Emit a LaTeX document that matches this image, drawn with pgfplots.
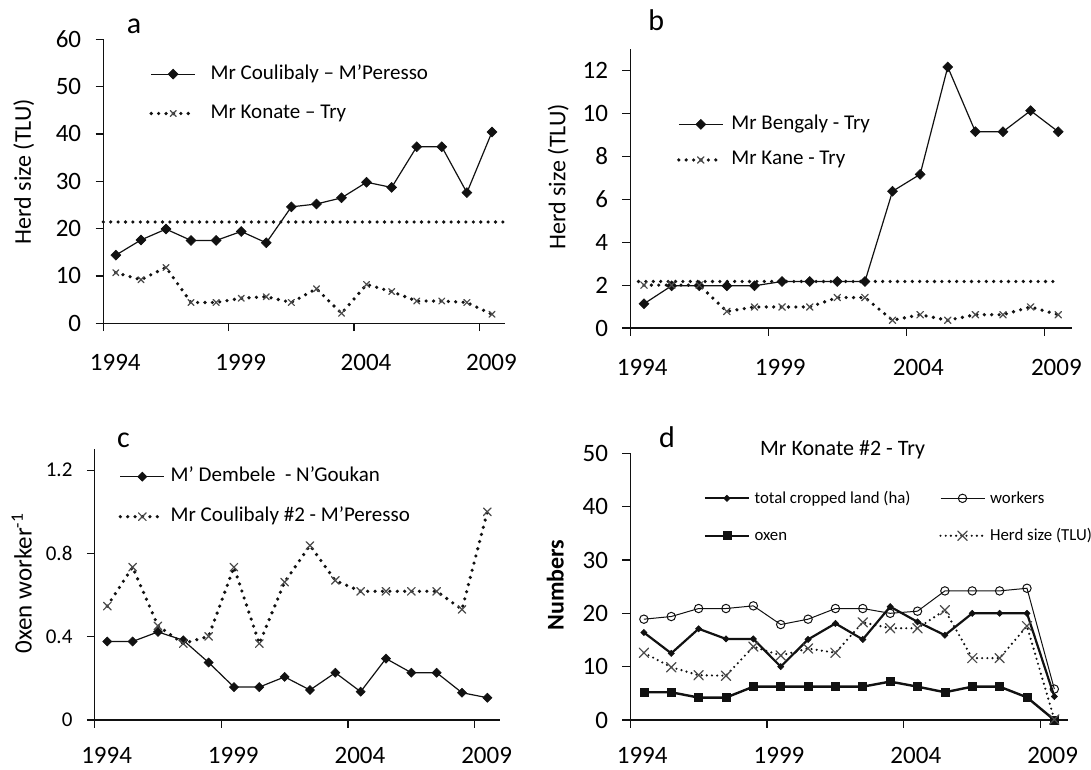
\documentclass[border=0pt]{standalone}
\usepackage{pgfplots}
\pgfplotsset{compat=1.18}
\usepackage{fontspec}
\setmainfont{Carlito}
\definecolor{ink}{HTML}{111111}
\definecolor{xgray}{HTML}{4A4A4A}
\pgfplotsset{
  paneldefault/.style={
    scale only axis, clip=false, anchor=south west,
    axis x line*=bottom, axis y line*=left,
    axis line style={ink, line width=0.6pt},
    tick style={ink, line width=0.6pt},
    tick align=outside, major tick length=3.9pt,
    xmin=1994, xmax=2010,
    xtick={1994,1999,2004,2009},
    xticklabels={1994,1999,2004,2009},
    /pgf/number format/assume math mode=true,
    xticklabel style={font=\fontsize{12.5}{14}\selectfont, anchor=north, inner sep=0pt, xshift=6pt, yshift=-11.6pt},
    yticklabel style={font=\fontsize{12.5}{14}\selectfont, anchor=east, inner sep=0pt, xshift=-7pt},
    ylabel style={font=\fontsize{12}{14}\selectfont, anchor=center},
    legend style={draw=none, fill=none, anchor=west, inner sep=0pt,
      font=\fontsize{10.5}{12}\selectfont,
      nodes={inner sep=0pt, text height=7pt, text depth=2pt}},
    legend cell align=left,
    legend image code/.code={\draw[mark repeat=2,mark phase=2,##1] plot coordinates {(0pt,0pt) (11pt,0pt) (22pt,0pt)};},
  },
  bottomrow/.style={xticklabel style={yshift=2pt}},
  dotline/.style={line width=1.8pt, dash pattern=on 0pt off 3.7pt, line cap=round},
  solidline/.style={ink, line width=0.6pt, solid},
  dia/.style={mark=square*, mark size=#1, mark options={rotate=45, solid, fill=ink, draw=ink, line width=0.3pt}},
  xm/.style={mark=x, mark size=#1, mark options={solid, xgray, line width=0.6pt}},
}
\begin{document}
\begin{tikzpicture}
\useasboundingbox (0pt,0pt) rectangle (545.5pt,385pt);
% ---------------- panel a
\begin{axis}[paneldefault, at={(51.65pt,223.35pt)}, width=200.6pt, height=142pt,
  ymin=0, ymax=60, ytick={0,10,20,30,40,50,60}, yticklabels={0,10,20,30,40,50,60},
  ylabel={Herd size (TLU)}, ylabel style={at={(axis description cs:-0.198,0.534)}},
  legend style={at={(axis description cs:0.114,0.808)}, row sep=10.7pt,
    /tikz/every odd column/.append style={column sep=6.8pt}}]
\addplot[solidline, dia=1.75pt] coordinates {
(1994.5,14.4) (1995.5,17.6) (1996.5,19.9) (1997.5,17.5) (1998.5,17.5) (1999.5,19.4)
(2000.5,17.0) (2001.5,24.6) (2002.5,25.2) (2003.5,26.5) (2004.5,29.8) (2005.5,28.7)
(2006.5,37.3) (2007.5,37.3) (2008.5,27.6) (2009.5,40.4)};
\addlegendentry{Mr Coulibaly – M’Peresso}
\addplot[ink, dotline, xm=2.1pt] coordinates {
(1994.5,10.7) (1995.5,9.2) (1996.5,11.8) (1997.5,4.4) (1998.5,4.4) (1999.5,5.3)
(2000.5,5.6) (2001.5,4.4) (2002.5,7.3) (2003.5,2.1) (2004.5,8.2) (2005.5,6.7)
(2006.5,4.7) (2007.5,4.7) (2008.5,4.4) (2009.5,1.9)};
\addlegendentry{Mr Konate – Try}
\addplot[ink, dotline, forget plot] coordinates {(1994,21.4) (2010.2,21.4)};
\node[font=\fontsize{15}{17}\selectfont] at (axis description cs:0.0765,1.047) {a};
\end{axis}
% ---------------- panel b
\begin{axis}[paneldefault, at={(315.1pt,221pt)}, width=220.9pt, height=139.3pt,
  ymin=0, ymax=13, ytick={0,2,4,6,8,10,12}, yticklabels={0,2,4,6,8,10,12},
  ylabel={Herd size (TLU)}, ylabel style={at={(axis description cs:-0.163,0.543)}},
  legend style={at={(axis description cs:0.105,0.667)}, row sep=8.8pt,
    /tikz/every odd column/.append style={column sep=3.4pt}}]
\addplot[solidline, dia=1.75pt] coordinates {
(1994.5,1.13) (1995.5,1.97) (1996.5,1.97) (1997.5,1.97) (1998.5,1.97) (1999.5,2.17)
(2000.5,2.17) (2001.5,2.17) (2002.5,2.17) (2003.5,6.38) (2004.5,7.17) (2005.5,12.18)
(2006.5,9.16) (2007.5,9.16) (2008.5,10.14) (2009.5,9.16)};
\addlegendentry{Mr Bengaly - Try}
\addplot[ink, dotline, xm=2.3pt] coordinates {
(1994.5,2.0) (1995.5,2.0) (1996.5,2.0) (1997.5,0.77) (1998.5,0.98) (1999.5,0.98)
(2000.5,0.98) (2001.5,1.42) (2002.5,1.42) (2003.5,0.36) (2004.5,0.62) (2005.5,0.36)
(2006.5,0.62) (2007.5,0.62) (2008.5,0.98) (2009.5,0.62)};
\addlegendentry{Mr Kane - Try}
\addplot[ink, dotline, forget plot] coordinates {(1994.3,2.17) (2009.5,2.17)};
\node[font=\fontsize{15}{17}\selectfont] at (axis description cs:0.059,1.105) {b};
\end{axis}
% ---------------- panel c
\begin{axis}[paneldefault, bottomrow, at={(47.3pt,25pt)}, width=202.7pt, height=135.35pt,
  ymin=0, ymax=1.3, ytick={0,0.4,0.8,1.2}, yticklabels={0,0.4,0.8,1.2},
  yticklabel style={font=\fontsize{10.5}{12}\selectfont},
  ylabel={0xen worker\textsuperscript{-1}}, ylabel style={at={(axis description cs:-0.18,0.505)}, font=\fontsize{12.5}{14}\selectfont},
  legend style={at={(axis description cs:0.058,0.825)}, row sep=11pt,
    /tikz/every odd column/.append style={column sep=2.3pt}}]
\addplot[solidline, dia=1.6pt] coordinates {
(1994.5,0.377) (1995.5,0.377) (1996.5,0.423) (1997.5,0.383) (1998.5,0.276) (1999.5,0.158)
(2000.5,0.158) (2001.5,0.207) (2002.5,0.144) (2003.5,0.227) (2004.5,0.136) (2005.5,0.295)
(2006.5,0.227) (2007.5,0.227) (2008.5,0.131) (2009.5,0.107)};
\addlegendentry{M' Dembele\ \ - N'Goukan}
\addplot[ink, dotline, xm=2.7pt] coordinates {
(1994.5,0.547) (1995.5,0.734) (1996.5,0.452) (1997.5,0.367) (1998.5,0.402) (1999.5,0.734)
(2000.5,0.367) (2001.5,0.662) (2002.5,0.838) (2003.5,0.670) (2004.5,0.618) (2005.5,0.618)
(2006.5,0.618) (2007.5,0.618) (2008.5,0.531) (2009.5,1.0)};
\addlegendentry{Mr Coulibaly \#2 - M'Peresso}
\node[font=\fontsize{15}{17}\selectfont] at (axis description cs:0.071,1.034) {c};
\end{axis}
% ---------------- panel d
\begin{axis}[paneldefault, bottomrow, at={(315.1pt,25pt)}, width=218.9pt, height=133.35pt,
  ymin=0, ymax=50, ytick={0,10,20,30,40,50}, yticklabels={0,10,20,30,40,50},
  ylabel={Numbers}, ylabel style={at={(axis description cs:-0.171,0.506)}, font=\fontsize{12}{14}\selectfont\bfseries},
  legend columns=2,
  legend style={at={(axis description cs:0.167,0.761)}, row sep=9.7pt,
    font=\fontsize{8.4}{10}\selectfont,
    /tikz/every odd column/.append style={column sep=2.2pt}}]
\addplot[ink, line width=1.1pt, mark=square*, mark size=1.1pt, mark options={rotate=45, solid, fill=ink, line width=0.3pt}] coordinates {
(1994.5,16.4) (1995.5,12.5) (1996.5,17.1) (1997.5,15.2) (1998.5,15.2) (1999.5,10.0)
(2000.5,15.1) (2001.5,18.1) (2002.5,15.1) (2003.5,21.25) (2004.5,18.4) (2005.5,15.9)
(2006.5,20.0) (2007.5,20.0) (2008.5,20.0) (2009.5,4.4)};
\addlegendentry{\makebox[92.4pt][l]{total cropped land (ha)}}
\addplot[ink, line width=0.5pt, mark=o, mark size=2.1pt, mark options={solid, fill=white, draw=ink, line width=0.5pt}] coordinates {
(1994.5,18.9) (1995.5,19.4) (1996.5,20.9) (1997.5,20.9) (1998.5,21.4) (1999.5,17.9)
(2000.5,18.9) (2001.5,20.9) (2002.5,20.9) (2003.5,20.0) (2004.5,20.4) (2005.5,24.2)
(2006.5,24.2) (2007.5,24.2) (2008.5,24.7) (2009.5,5.8)};
\addlegendentry{workers}
\addplot[ink, line width=1.2pt, mark=square*, mark size=2pt, mark options={solid, fill=ink, line width=0.3pt}] coordinates {
(1994.5,5.2) (1995.5,5.2) (1996.5,4.2) (1997.5,4.2) (1998.5,6.25) (1999.5,6.25)
(2000.5,6.25) (2001.5,6.25) (2002.5,6.25) (2003.5,7.2) (2004.5,6.25) (2005.5,5.2)
(2006.5,6.25) (2007.5,6.25) (2008.5,4.25) (2009.5,0)};
\addlegendentry{oxen}
\addplot[ink, line width=1.2pt, dash pattern=on 0pt off 2.6pt, line cap=round, xm=3.3pt] coordinates {
(1994.5,12.6) (1995.5,9.9) (1996.5,8.4) (1997.5,8.3) (1998.5,13.75) (1999.5,12.1)
(2000.5,13.4) (2001.5,12.6) (2002.5,18.3) (2003.5,17.2) (2004.5,17.2) (2005.5,20.6)
(2006.5,11.6) (2007.5,11.6) (2008.5,17.6) (2009.5,0.1)};
\addlegendentry{Herd size (TLU)}
\node[font=\fontsize{15}{17}\selectfont] at (axis description cs:0.084,1.062) {d};
\node[font=\fontsize{11}{13}\selectfont] at (axis description cs:0.485,1.012) {Mr Konate \#2 - Try};
\end{axis}
\end{tikzpicture}
\end{document}
